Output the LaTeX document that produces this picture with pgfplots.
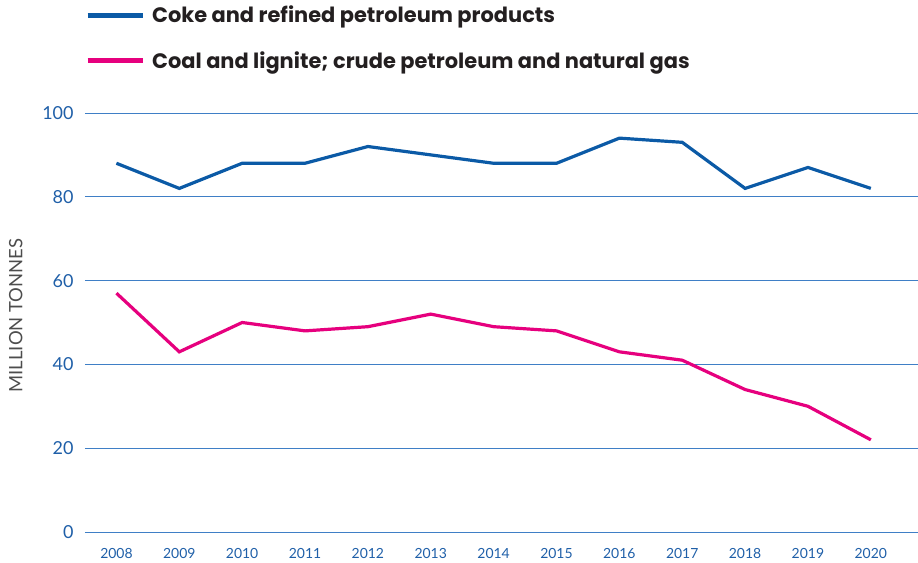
\documentclass[border=0pt]{standalone}
\usepackage{pgfplots}
\pgfplotsset{compat=1.18}
\usepackage{fontspec}
\setmainfont{Lato}
\newfontfamily\legfont{Poppins}
\definecolor{lblue}{HTML}{0B5AA6}
\definecolor{lpink}{HTML}{E6007E}
\definecolor{gridc}{HTML}{3F7FC6}
\definecolor{tickc}{HTML}{1F5FA8}
\definecolor{labc}{HTML}{4D4D4D}
\definecolor{legc}{HTML}{231F20}
\begin{document}
\begin{tikzpicture}
\begin{axis}[
  scale only axis,
  width=833bp, height=419bp,
  xmin=2007.5, xmax=2020.75,
  ymin=0, ymax=100,
  axis line style={draw=none},
  xtick={2008,...,2020},
  ytick={0,20,40,60,80,100},
  xticklabel style={font=\fontsize{14}{16}\selectfont, text=tickc, /pgf/number format/1000 sep={}},
  yticklabel style={font=\fontsize{18}{20}\selectfont, text=tickc},
  /pgf/number format/assume math mode=true,
  x tick label style={/pgf/number format/1000 sep={}},
  major tick length=0pt,
  ymajorgrids,
  grid style={gridc, line width=0.9pt},
  xticklabel shift=13bp,
  yticklabel shift=8bp,
  ylabel={MILLION TONNES},
  ylabel style={font=\fontsize{18.5}{20}\selectfont, text=labc, yshift=13bp, xshift=7bp},
  legend style={at={(0,1)}, anchor=north west, yshift=109bp, draw=none, fill=none,
    inner sep=0pt, row sep=23bp, column sep=5bp, font=\fontsize{21}{24}\selectfont\legfont\bfseries, text=legc,
    cells={anchor=west}},
  legend cell align=left,
  legend image code/.code={\draw[#1, line width=5bp] (0bp,0bp) -- (55bp,0bp);},
]
\addplot[lblue, line width=3.2bp] coordinates {
(2008,88) (2009,82) (2010,88) (2011,88) (2012,92) (2013,90) (2014,88)
(2015,88) (2016,94) (2017,93) (2018,82) (2019,87) (2020,82)};
\addlegendentry{Coke and refined petroleum products}
\addplot[lpink, line width=3.2bp] coordinates {
(2008,57) (2009,43) (2010,50) (2011,48) (2012,49) (2013,52) (2014,49)
(2015,48) (2016,43) (2017,41) (2018,34) (2019,30) (2020,22)};
\addlegendentry{Coal and lignite; crude petroleum and natural gas}
\coordinate (bl) at (rel axis cs:0,0);
\coordinate (tr) at (rel axis cs:1,1);
\end{axis}
\pgfresetboundingbox
\path ([xshift=-85bp,yshift=-31bp]bl) rectangle ([yshift=113bp]tr);
\end{tikzpicture}
\end{document}
